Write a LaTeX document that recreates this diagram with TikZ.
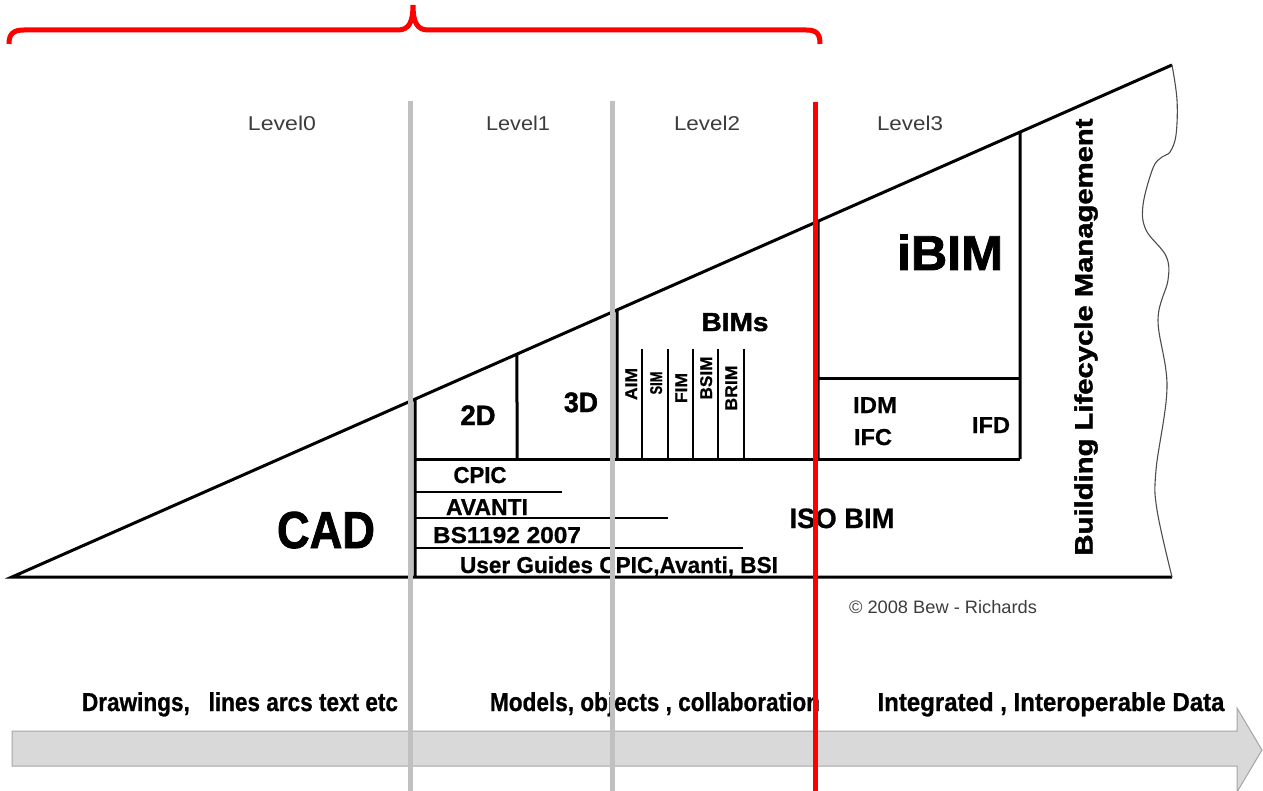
\documentclass[tikz,border=0pt]{standalone}
\usepackage{fontspec}
\setmainfont{Liberation Sans}
\newfontfamily\heavyfont{Liberation Sans}[BoldFeatures={FakeBold=1.6}]
\newfontfamily\midfont{Liberation Sans}[BoldFeatures={FakeBold=0.8}]
\usepackage{graphicx}
\usetikzlibrary{calc}
\newcommand\fitw[2]{\resizebox{#1pt}{\height}{#2}}
\newcommand\fsz[1]{\fontsize{#1}{#1}\selectfont}
\definecolor{vgray}{RGB}{192,192,192}
\definecolor{agray}{RGB}{217,217,217}
\definecolor{aedge}{RGB}{165,165,165}
\definecolor{lvlgray}{RGB}{60,60,60}
\begin{document}
\begin{tikzpicture}[x=1pt,y=-1pt,
  blk/.style={line width=3pt},
  thinl/.style={line width=1.2pt},
  lvl/.style={font=\fsz{20}, text=lvlgray, anchor=base, inner sep=0pt},
  lab/.style={anchor=base, inner sep=0pt},
  vline/.style={line width=5pt, vgray},
  rline/.style={line width=5pt, red}]
\useasboundingbox (0,0) rectangle (1263,791);

% bottom arrow
\draw[fill=agray, draw=aedge, line width=1pt] (12,731) -- (1237,731) -- (1237,708) -- (1262,750) -- (1237,792) -- (1237,766) -- (12,766) -- cycle;

% brace
\draw[red, line width=5pt] (9,44) .. controls (9,34) and (13,30) .. (24,30) -- (398,30) .. controls (409,30) and (413,22) .. (413,5) .. controls (413,22) and (417,30) .. (428,30) -- (806,30) .. controls (817,30) and (820,34) .. (820,44);

% triangle
\coordinate (bl) at (12,577);
\coordinate (tr) at (1172,65);
\coordinate (br) at (1172,577);
\draw[blk] (br) -- (bl) -- (tr);
\draw[line width=1.1pt, black!70] plot[smooth, tension=0.6] coordinates {(1172,65) (1177,100) (1176,135) (1170,152) (1162,157) (1153,168) (1143,205) (1146,230) (1166,256) (1168,280) (1158,320) (1167,387) (1156,470) (1157,510) (1172,577)};

\coordinate (h415) at ($(bl)!0.34741!(tr)$);
\coordinate (h517) at ($(bl)!0.43534!(tr)$);
\coordinate (h617) at ($(bl)!0.52155!(tr)$);
\coordinate (h818) at ($(bl)!0.69483!(tr)$);
\coordinate (h1020) at ($(bl)!0.86897!(tr)$);

\draw[blk] (h415) -- (415,577);
\draw[blk] (h517) -- (517,459);
\draw[blk] (h617) -- (617,459);
\draw[blk] (h818) -- (818,459);
\draw[blk] (h1020) -- (1020,459);
\draw[blk] (415,459) -- (1020,459);
\draw[blk] (818,378) -- (1020,378);

% BIMs thin lines
\foreach \xx in {642,668,693,718,744} \draw[thinl] (\xx,349) -- (\xx,459);
% lower box thin lines
\draw[thinl] (415,492) -- (562,492);
\draw[thinl] (415,518) -- (668,518);
\draw[thinl] (415,548) -- (743,548);

% level labels
\node[lvl] (l0) at (282,131) {\fitw{68}{Level0}};
\node[lvl] (l1) at (518,131) {\fitw{64}{Level1}};
\node[lvl] (l2) at (707,131) {\fitw{66}{Level2}};
\node[lvl] (l3) at (910,131) {\fitw{66}{Level3}};

% big labels
\node[lab, font=\heavyfont\bfseries\fsz{52}] (cad) at (326,548) {\fitw{98}{CAD}};
\node[lab, font=\heavyfont\bfseries\fsz{28}] (d2) at (478,425) {\fitw{35}{2D}};
\node[lab, font=\heavyfont\bfseries\fsz{28}] (d3) at (581,412) {\fitw{34}{3D}};
\node[lab, font=\heavyfont\bfseries\fsz{26}] (bims) at (735,331) {\fitw{67}{BIMs}};
\node[lab, font=\heavyfont\bfseries\fsz{49}] (ibim) at (950,270) {\fitw{106}{iBIM}};
\node[lab, font=\midfont\bfseries\fsz{28}] (iso) at (842,528) {\fitw{105}{ISO BIM}};

% small rotated
\node[lab, font=\midfont\bfseries\fsz{17}, rotate=90] (aim) at (637,384) {\fitw{32}{AIM}};
\node[lab, font=\midfont\bfseries\fsz{17}, rotate=90] (sim) at (662,383) {\fitw{23}{SIM}};
\node[lab, font=\midfont\bfseries\fsz{17}, rotate=90] (fim) at (687,388) {\fitw{30}{FIM}};
\node[lab, font=\midfont\bfseries\fsz{17}, rotate=90] (bsim) at (712,378) {\fitw{43}{BSIM}};
\node[lab, font=\midfont\bfseries\fsz{17}, rotate=90] (brim) at (737,388) {\fitw{45}{BRIM}};

% IDM etc
\node[lab, font=\midfont\bfseries\fsz{23}] (idm) at (875,413) {\fitw{44}{IDM}};
\node[lab, font=\midfont\bfseries\fsz{23}] (ifc) at (873,445) {\fitw{38}{IFC}};
\node[lab, font=\midfont\bfseries\fsz{23}] (ifd) at (991,433) {\fitw{38}{IFD}};

% lower box
\node[lab, font=\midfont\bfseries\fsz{23}] (cpic) at (480,483) {\fitw{53}{CPIC}};
\node[lab, font=\midfont\bfseries\fsz{23}] (avanti) at (487,515) {\fitw{82}{AVANTI}};
\node[lab, font=\midfont\bfseries\fsz{23}] (bs) at (507,543) {\fitw{148}{BS1192 2007}};
\node[lab, font=\midfont\bfseries\fsz{23}] (ug) at (619,573) {\fitw{318}{User Guides CPIC,Avanti, BSI}};

% BLM
\node[font=\heavyfont\bfseries\fsz{25}, rotate=90, inner sep=0pt] (blm) at (1086,337) {\fitw{437}{Building Lifecycle Management}};

% copyright
\node[anchor=base, inner sep=0pt, font=\fsz{18}, text=lvlgray] (copy) at (943,613) {\fitw{188}{\char"00A9\ 2008 Bew - Richards}};

% bottom texts
\node[lab, font=\midfont\bfseries\fsz{26}] (t1) at (240,711) {\fitw{316}{Drawings,\ \ \ lines arcs text etc}};
\node[lab, font=\midfont\bfseries\fsz{26}] (t2) at (655,711) {\fitw{330}{Models, objects , collaboration}};
\node[lab, font=\midfont\bfseries\fsz{26}] (t3) at (1051,711) {\fitw{347}{Integrated , Interoperable Data}};

% vertical level lines on top
\draw[vline] (410,101) -- (410,791);
\draw[vline] (612,101) -- (612,791);
\draw[rline] (815,102) -- (815,791);
\end{tikzpicture}
\end{document}
